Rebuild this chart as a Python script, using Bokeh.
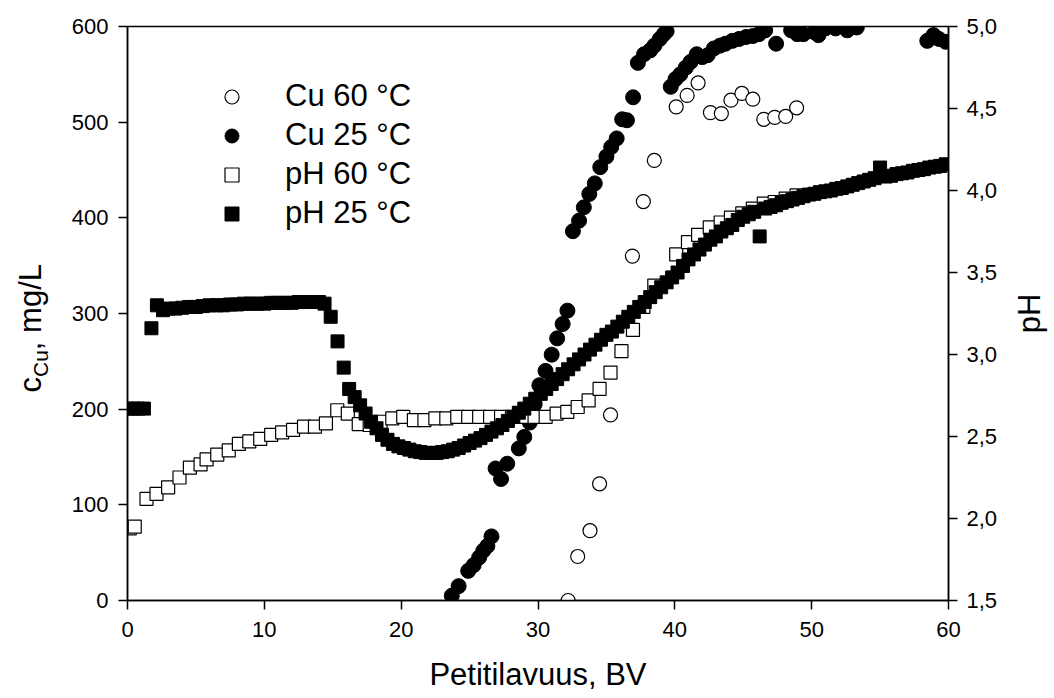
import math

from bokeh.plotting import figure
from bokeh.layouts import row
from bokeh.models import (Range1d, LinearAxis, FixedTicker, Legend, LegendItem,
                          Label, CustomJSTickFormatter)
from bokeh.embed import file_html
from bokeh.resources import INLINE

FONT = "Liberation Sans"

# Cu concentration in the effluent, mg/L
cu60_bv = [32.2, 32.9, 33.8, 34.5, 35.3, 36.9, 37.7, 38.5, 40.1, 40.9,
           41.7, 42.6, 43.4, 44.1, 44.9, 45.7, 46.5, 47.3, 48.1, 48.9]
cu60_mg = [0, 46, 73, 122, 194, 360, 417, 460, 516, 528,
           541, 510, 509, 523, 530, 524, 503, 505, 506, 515]

cu25_bv = [23.7, 24.2, 24.9, 25.3, 25.7, 26.0, 26.3, 26.6, 26.9, 27.3,
           27.75, 28.6, 29.0, 29.4, 29.75, 30.1, 30.55, 31.0, 31.4, 31.8,
           32.15, 32.55, 33.0, 33.35, 33.75, 34.15, 34.55, 35.0, 35.35, 35.75,
           36.15, 36.5, 36.95, 37.3, 37.75, 38.2, 38.5, 38.9, 39.2, 39.4,
           39.7, 40.05, 40.4, 40.8, 41.15, 41.6, 42.0, 42.4, 42.85, 43.3,
           43.7, 44.2, 44.7, 45.2, 45.7, 46.15, 46.6, 47.4, 48.5, 48.95,
           49.4, 50.2, 50.5, 51.0, 51.75, 52.6, 53.3, 58.45, 58.9, 59.3, 59.8]
cu25_mg = [5, 15, 31, 37, 45, 52, 57, 67, 138, 127,
           143, 159, 171, 186, 205, 225, 240, 257, 274, 289,
           303, 386, 397, 411, 425, 436, 453, 464, 474, 483,
           503, 502, 526, 562, 571, 575, 580, 587, 592, 595,
           537, 545, 550, 557, 563, 571, 568, 570, 577, 580,
           582, 585, 587, 589, 590, 592, 596, 582, 596, 592,
           592, 594, 591, 598, 598, 596, 599, 585, 591, 587, 584]

# Effluent pH
ph60_bv = [0.17, 0.53, 1.39, 2.12, 2.97, 3.8, 4.56, 5.34, 5.78, 6.56,
           7.4, 8.14, 8.9, 9.7, 10.5, 11.3, 12.1, 12.9, 13.7, 14.5,
           15.33, 16.1, 16.9, 17.7, 18.5, 19.35, 20.15, 20.93, 21.7, 22.5,
           23.3, 24.1, 24.9, 25.7, 26.5, 27.3, 28.1, 28.9, 29.75, 30.56,
           31.36, 32.14, 32.9, 33.7, 34.5, 35.3, 36.1, 36.94, 37.7, 38.5,
           40.1, 40.96, 41.7, 42.55, 43.35, 44.1, 44.93, 45.7, 46.5,
           47.3, 48.1, 48.9]
ph60_val = [1.94, 1.95, 2.12, 2.15, 2.19, 2.25, 2.31, 2.33, 2.36, 2.39,
            2.415, 2.455, 2.47, 2.485, 2.51, 2.525, 2.54, 2.56, 2.56, 2.58,
            2.66, 2.64, 2.575, 2.57, 2.59, 2.61, 2.62, 2.60, 2.60, 2.61,
            2.61, 2.62, 2.62, 2.62, 2.62, 2.62, 2.62, 2.62, 2.62, 2.62,
            2.64, 2.65, 2.68, 2.72, 2.79, 2.89, 3.02, 3.15, 3.29, 3.42,
            3.61, 3.685, 3.73, 3.775, 3.805, 3.835, 3.86, 3.89, 3.92,
            3.93, 3.95, 3.97]

ph25_bv = [0.0, 0.4, 0.8, 1.2, 1.75, 2.15, 2.6,
           3.0, 3.5, 4.0, 4.5, 5.0, 5.5, 6.0, 6.5, 7.0, 7.5, 8.0, 8.5,
           9.0, 9.5, 10.0, 10.5, 11.0, 11.5, 12.0, 12.5, 13.0, 13.5, 14.0,
           14.4, 14.85, 15.35, 15.8,
           16.2, 16.6, 17.0, 17.4, 17.8, 18.2, 18.6, 19.0, 19.4, 19.8,
           20.2, 20.6, 21.0, 21.4, 21.8, 22.2, 22.6, 23.0, 23.4, 23.8,
           24.2, 24.6, 25.0, 25.4, 25.8, 26.2, 26.6, 27.0, 27.4, 27.8,
           28.2, 28.6, 29.0, 29.4, 29.8, 30.2, 30.6, 31.0, 31.4, 31.8,
           32.2, 32.6, 33.0, 33.4, 33.8, 34.2, 34.6, 35.0, 35.4, 35.8,
           36.2, 36.6, 37.0, 37.4, 37.8, 38.2, 38.6, 39.0, 39.4, 39.8,
           40.2, 40.6, 41.0, 41.4, 41.8, 42.2, 42.6, 43.0, 43.4, 43.8,
           44.2, 44.6, 45.0, 45.4, 45.8, 46.2, 46.6, 47.0, 47.4, 47.8,
           48.2, 48.6, 49.0, 49.4, 49.8, 50.2, 50.6, 51.0, 51.4, 51.8,
           52.2, 52.6, 53.0, 53.4, 53.8, 54.2, 54.6, 55.0, 55.4, 55.8,
           56.2, 56.6, 57.0, 57.4, 57.8, 58.2, 58.6, 59.0, 59.4, 59.8]
ph25_val = [2.67, 2.67, 2.67, 2.67, 3.16, 3.30, 3.27,
            3.28, 3.28, 3.285, 3.29, 3.29, 3.295, 3.30, 3.30, 3.30, 3.305, 3.305, 3.31,
            3.31, 3.31, 3.31, 3.315, 3.315, 3.315, 3.315, 3.32, 3.32, 3.32, 3.32,
            3.31, 3.23, 3.08, 2.92,
            2.79, 2.74, 2.69, 2.64, 2.59, 2.55, 2.51, 2.48, 2.455, 2.44,
            2.43, 2.42, 2.41, 2.405, 2.40, 2.40, 2.40, 2.405, 2.41, 2.42,
            2.43, 2.445, 2.46, 2.475, 2.49, 2.51, 2.53, 2.55, 2.57, 2.595,
            2.62, 2.645, 2.67, 2.70, 2.73, 2.76, 2.79, 2.82, 2.85, 2.88,
            2.91, 2.94, 2.97, 3.00, 3.03, 3.06, 3.09, 3.12, 3.14, 3.17,
            3.20, 3.23, 3.26, 3.29, 3.32, 3.35, 3.38, 3.41, 3.44, 3.47,
            3.50, 3.54, 3.58, 3.61, 3.64, 3.67, 3.70, 3.72, 3.75, 3.77,
            3.79, 3.82, 3.84, 3.855, 3.87, 3.72, 3.89, 3.90, 3.91, 3.925,
            3.935, 3.945, 3.955, 3.965, 3.975, 3.98, 3.99, 3.995, 4.00, 4.01,
            4.015, 4.025, 4.035, 4.045, 4.055, 4.065, 4.075, 4.14, 4.085, 4.09,
            4.10, 4.105, 4.11, 4.12, 4.125, 4.13, 4.14, 4.145, 4.15, 4.16]

series_labels = ["Cu 60 \u00b0C", "Cu 25 \u00b0C", "pH 60 \u00b0C", "pH 25 \u00b0C"]

bv_ticks = [0, 10, 20, 30, 40, 50, 60]
cu_ticks = [0, 100, 200, 300, 400, 500, 600]
ph_ticks = [1.5, 2.0, 2.5, 3.0, 3.5, 4.0, 4.5, 5.0]

TOTAL_W, TOTAL_H = 1054, 698
LEFT_W, RIGHT_W = 60, 50          # strips carrying the rotated axis titles
FRAME_LEFT, FRAME_RIGHT = 127, 948
FRAME_TOP, FRAME_BOTTOM = 26, 600
TITLE_FS, SUB_FS = 31, 21

p = figure(width=TOTAL_W - LEFT_W - RIGHT_W, height=TOTAL_H,
           x_range=Range1d(0, 60), y_range=Range1d(0, 600),
           output_backend="svg", toolbar_location=None, title=None,
           min_border_left=FRAME_LEFT - LEFT_W,
           min_border_right=TOTAL_W - FRAME_RIGHT - RIGHT_W,
           min_border_top=FRAME_TOP, min_border_bottom=TOTAL_H - FRAME_BOTTOM)
p.extra_y_ranges = {"ph": Range1d(1.5, 5.0)}
p.xgrid.visible = False
p.ygrid.visible = False
p.outline_line_color = "black"
p.outline_line_width = 1.5
p.background_fill_color = "white"
p.border_fill_color = "white"


def style_axis(ax, standoff):
    ax.axis_line_color = "black"
    ax.axis_line_width = 1.5
    ax.major_tick_line_color = "black"
    ax.major_tick_line_width = 1.5
    ax.major_tick_out = 9
    ax.major_tick_in = 0
    ax.minor_tick_line_color = None
    ax.major_label_text_font = FONT
    ax.major_label_text_font_size = "22px"
    ax.major_label_text_color = "black"
    ax.major_label_standoff = standoff
    ax.axis_label_text_font = FONT
    ax.axis_label_text_font_size = f"{TITLE_FS}px"
    ax.axis_label_text_font_style = "normal"
    ax.axis_label_text_color = "black"


xax = p.xaxis[0]
xax.ticker = FixedTicker(ticks=bv_ticks)
style_axis(xax, 12)
xax.axis_label = "Petitilavuus, BV"
xax.axis_label_standoff = 17

yax = p.yaxis[0]
yax.ticker = FixedTicker(ticks=cu_ticks)
style_axis(yax, 10)
yax.axis_label = None

ph_axis = LinearAxis(y_range_name="ph", ticker=FixedTicker(ticks=ph_ticks))
ph_axis.formatter = CustomJSTickFormatter(code="return tick.toFixed(1).replace('.', ',');")
style_axis(ph_axis, 9)
ph_axis.axis_label = None
p.add_layout(ph_axis, "right")

r_cu60 = p.scatter(cu60_bv, cu60_mg, marker="circle", size=14,
                   fill_color="white", line_color="black", line_width=1.2)
r_cu25 = p.scatter(cu25_bv, cu25_mg, marker="circle", size=15,
                   fill_color="black", line_color="black", line_width=1)
r_ph60 = p.scatter(ph60_bv, ph60_val, marker="square", size=13, y_range_name="ph",
                   fill_color="white", line_color="black", line_width=1.2)
r_ph25 = p.scatter(ph25_bv, ph25_val, marker="square", size=13, y_range_name="ph",
                   fill_color="black", line_color="black", line_width=1)

legend = Legend(
    items=[LegendItem(label=lbl, renderers=[r])
           for lbl, r in zip(series_labels, [r_cu60, r_cu25, r_ph60, r_ph25])],
    location=(87, 369), orientation="vertical",
    border_line_color=None, background_fill_alpha=0,
    padding=0, spacing=3, margin=0,
    glyph_width=35, glyph_height=35, label_height=35, label_standoff=36,
    label_text_font=FONT, label_text_font_size="31px", label_text_color="black",
)
p.add_layout(legend)


def title_strip(width, x0):
    # Frames in a row line up, so the strip's ranges give page pixels:
    # x measured from the page's left edge, y from its bottom edge.
    s = figure(width=width, height=TOTAL_H,
               x_range=Range1d(x0, x0 + width),
               y_range=Range1d(TOTAL_H - FRAME_BOTTOM, TOTAL_H - FRAME_TOP),
               output_backend="svg", toolbar_location=None, title=None,
               x_axis_type=None, y_axis_type=None, min_border=0)
    s.xgrid.visible = False
    s.ygrid.visible = False
    s.outline_line_color = None
    s.background_fill_color = "white"
    s.border_fill_color = "white"
    return s


def anchor_x(baseline, size):
    # the label anchor sits a little above the alphabetic baseline
    return baseline - 13 * size / 30.0


def vertical_text(fig, text, baseline_x, start_y, size):
    fig.add_layout(Label(x=anchor_x(baseline_x, size), y=TOTAL_H - start_y,
                         text=text, text_align="left", text_baseline="alphabetic",
                         angle=math.pi / 2, text_font=FONT,
                         text_font_size=f"{size}px", text_color="black"))


# left title: c with subscript Cu, then the unit; reads upward
left = title_strip(LEFT_W, 0)
BASE_X = 43
start = 392
vertical_text(left, "c", BASE_X, start, TITLE_FS)
start -= 0.5 * TITLE_FS
vertical_text(left, "Cu", BASE_X + 6, start, SUB_FS)
start -= 1.278 * SUB_FS
vertical_text(left, ", mg/L", BASE_X, start, TITLE_FS)

# right title
right = title_strip(RIGHT_W, TOTAL_W - RIGHT_W)
ph_len = (0.556 + 0.722) * TITLE_FS
vertical_text(right, "pH", 1042, (FRAME_TOP + FRAME_BOTTOM) / 2 + ph_len / 2, TITLE_FS)

layout = row(left, p, right, spacing=0)
open("out.html", "w").write(file_html(layout, INLINE))
